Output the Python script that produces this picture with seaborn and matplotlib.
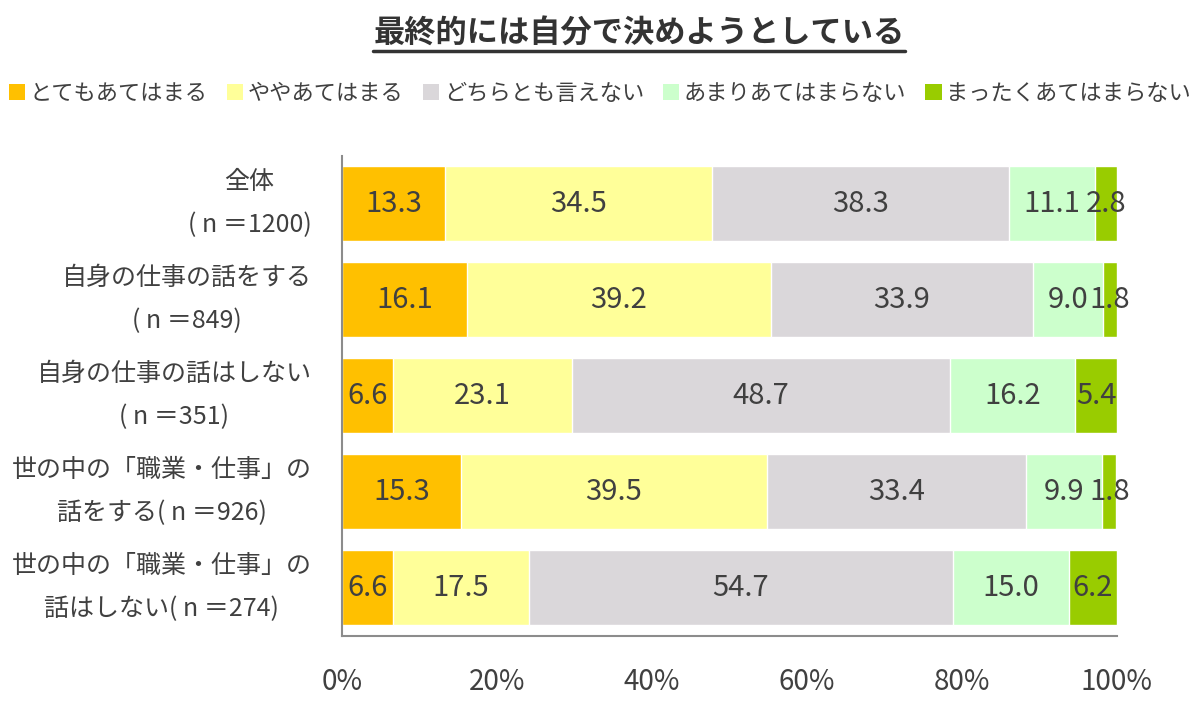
import numpy as np
import pandas as pd
import seaborn as sns
import matplotlib.pyplot as plt
from matplotlib.patches import Patch
from matplotlib.lines import Line2D
from matplotlib.ticker import FixedLocator, PercentFormatter

# data
title = "最終的には自分で決めようとしている"
groups = ["全体\n( n ＝1200)",
          "自身の仕事の話をする\n( n ＝849)",
          "自身の仕事の話はしない\n( n ＝351)",
          "世の中の「職業・仕事」の\n話をする( n ＝926)",
          "世の中の「職業・仕事」の\n話はしない( n ＝274)"]
answers = ["とてもあてはまる", "ややあてはまる", "どちらとも言えない",
           "あまりあてはまらない", "まったくあてはまらない"]
very = [13.3, 16.1, 6.6, 15.3, 6.6]
somewhat = [34.5, 39.2, 23.1, 39.5, 17.5]
neutral = [38.3, 33.9, 48.7, 33.4, 54.7]
not_much = [11.1, 9.0, 16.2, 9.9, 15.0]
not_at_all = [2.8, 1.8, 5.4, 1.8, 6.2]
colors = ["#FFC000", "#FFFF99", "#DAD7DA", "#CCFFCC", "#99CC00"]

sns.set_style("white")
plt.rcParams['font.family'] = ['Noto Sans CJK JP', 'DejaVu Sans']
text_col = "#404040"
axis_col = "#8C8C8C"

df = pd.DataFrame({a: v for a, v in zip(answers, [very, somewhat, neutral, not_much, not_at_all])},
                  index=groups)
cum = df.cumsum(axis=1)

fig = plt.figure(figsize=(12, 7.08), dpi=100)
ax = fig.add_axes([0.285, 0.1017, 0.6458, 0.6786])

# stacked bars: draw cumulative totals from the longest down
for i in reversed(range(len(answers))):
    sns.barplot(x=cum[answers[i]].values, y=groups, orient="h", color=colors[i],
                saturation=1, width=0.78, ax=ax)

for j, g in enumerate(groups):
    for a in answers:
        v = df.loc[g, a]
        ax.text(cum.loc[g, a] - v / 2, j, f"{v:.1f}", ha="center", va="center",
                fontsize=21, color=text_col)

ax.set_xlim(0, 100)
ax.set_ylim(len(groups) - 0.5, -0.5)
ax.xaxis.set_major_locator(FixedLocator([0, 20, 40, 60, 80, 100]))
ax.xaxis.set_major_formatter(PercentFormatter(xmax=100, decimals=0))
ax.yaxis.set_minor_locator(FixedLocator(np.arange(-0.5, len(groups), 1.0)))
ax.tick_params(axis="x", length=6, width=1.5, color=axis_col, pad=16,
               labelsize=20, labelcolor=text_col)
ax.tick_params(axis="y", which="major", length=0, pad=22, labelsize=18, labelcolor=text_col)
ax.tick_params(axis="y", which="minor", length=7, width=1.5, color=axis_col)
for lbl in ax.get_yticklabels():
    lbl.set_multialignment("center")
    lbl.set_linespacing(1.85)
    lbl.set_verticalalignment("center")
ax.set_xlabel("")
ax.set_ylabel("")
sns.despine(ax=ax)
for s in ["left", "bottom"]:
    ax.spines[s].set_color(axis_col)
    ax.spines[s].set_linewidth(1.5)

handles = [Patch(facecolor=c, edgecolor="none") for c in colors]
fig.legend(handles, answers, loc="center", bbox_to_anchor=(0.5, 0.868), ncol=5,
           frameon=False, fontsize=16, handlelength=0.75, handleheight=0.75,
           handletextpad=0.2, columnspacing=0.85, labelcolor=text_col)

t = fig.text(0.5325, 0.953, title, ha="center", va="center", fontsize=22.5,
             fontweight="bold", color="#333333")
fig.canvas.draw()
bb = t.get_window_extent().transformed(fig.transFigure.inverted())
fig.add_artist(Line2D([bb.x0, bb.x1], [0.928, 0.928], transform=fig.transFigure,
                      color="#333333", linewidth=2.5))

fig.savefig("out.png", dpi=100)
